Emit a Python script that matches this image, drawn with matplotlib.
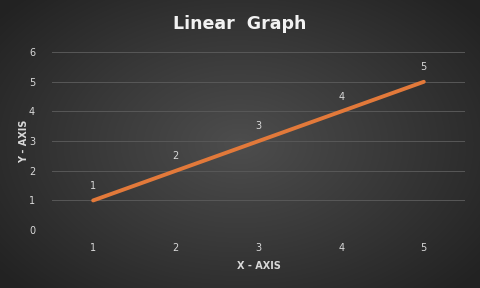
import numpy as np
import matplotlib.pyplot as plt
from matplotlib.colors import LinearSegmentedColormap

x_vals = [1, 2, 3, 4, 5]
y_vals = [1, 2, 3, 4, 5]
point_labels = ["1", "2", "3", "4", "5"]

fig = plt.figure(figsize=(4.8, 2.88), dpi=100)

# fondo con degradado radial
bg = fig.add_axes([0, 0, 1, 1])
gx, gy = np.meshgrid(np.linspace(-1, 1, 480), np.linspace(-1, 1, 288))
r = np.sqrt(gx ** 2 + (gy * 0.9) ** 2)
cmap = LinearSegmentedColormap.from_list("bg", ["#4d4d4d", "#383838", "#222222"])
bg.imshow(r, cmap=cmap, aspect="auto", extent=[0, 1, 0, 1], vmin=0, vmax=1.3)
bg.set_axis_off()

ax = fig.add_axes([0.108, 0.201, 0.861, 0.618])
ax.patch.set_alpha(0)
ax.plot(x_vals, y_vals, color="#E2793A", linewidth=2.8, solid_capstyle="round", zorder=3)
for xv, yv, lab in zip(x_vals, y_vals, point_labels):
    ax.annotate(lab, (xv, yv), xytext=(0, 7), textcoords="offset points",
                ha="center", va="bottom", color="#d9d9d9", fontsize=7)

ax.set_xlim(0.5, 5.5)
ax.set_ylim(0, 6)
ax.set_xticks(x_vals)
ax.set_yticks(range(0, 7))
ax.grid(axis="y", color="#585858", linewidth=0.7)
ax.set_axisbelow(True)
for s in ax.spines.values():
    s.set_visible(False)
ax.tick_params(length=0, colors="#d9d9d9", labelsize=7, pad=9)
ax.tick_params(axis="y", pad=12)

ax.set_xlabel("X - AXIS", color="#d9d9d9", fontsize=7, fontweight="bold", labelpad=6)
ax.set_ylabel("Y - AXIS", color="#d9d9d9", fontsize=7, fontweight="bold", labelpad=0)
fig.text(0.5, 0.918, "Linear  Graph", ha="center", va="center", color="#f2f2f2",
         fontsize=12.5, fontweight="bold")

fig.savefig("out.png", dpi=100)
